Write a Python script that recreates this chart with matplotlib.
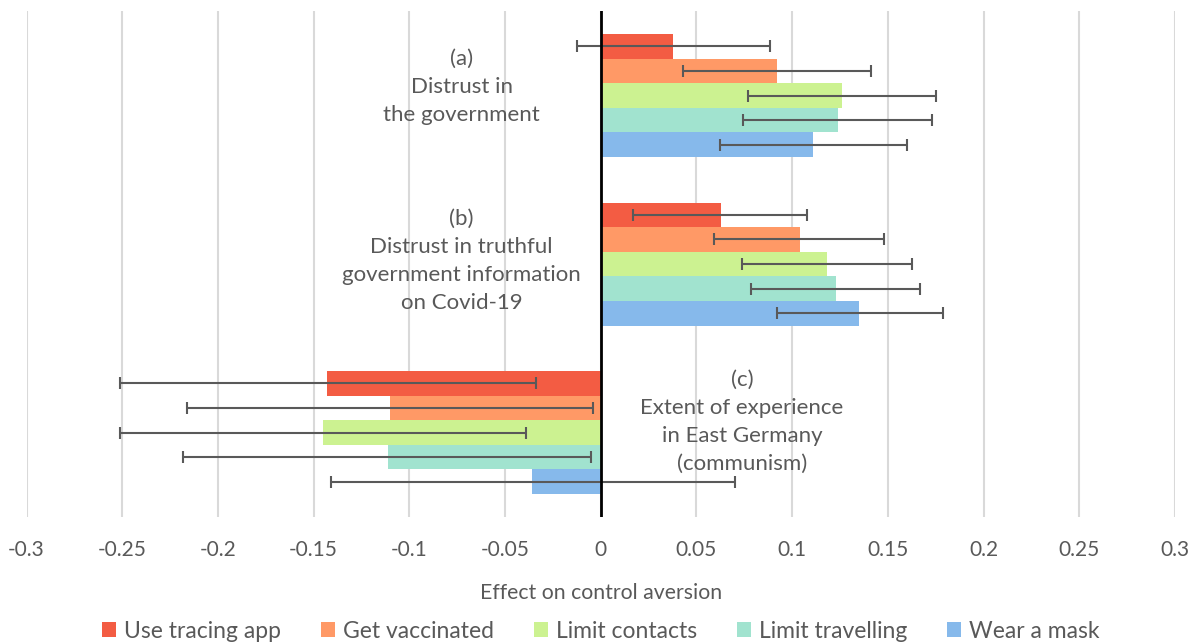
import numpy as np
import matplotlib
matplotlib.use("Agg")
import matplotlib.pyplot as plt

# ── Data ─────────────────────────────────────────────────────────────────────
groups = ["(a)\nDistrust in\nthe government",
          "(b)\nDistrust in truthful\ngovernment information\non Covid-19",
          "(c)\nExtent of experience\nin East Germany\n(communism)"]
series = ["Use tracing app", "Get vaccinated", "Limit contacts",
          "Limit travelling", "Wear a mask"]
colors = ["#F35C43", "#FF9966", "#CCF291", "#A1E3CF", "#86B9EB"]

# effect estimates, rows = series, cols = groups (a, b, c)
effects = np.array([
    [0.038, 0.063, -0.143],
    [0.092, 0.104, -0.110],
    [0.126, 0.118, -0.145],
    [0.124, 0.123, -0.111],
    [0.111, 0.135, -0.036],
])
ci_low = np.array([
    [-0.0125, 0.017, -0.251],
    [0.043, 0.059, -0.216],
    [0.077, 0.074, -0.251],
    [0.0745, 0.0785, -0.218],
    [0.0625, 0.092, -0.141],
])
ci_high = np.array([
    [0.0885, 0.108, -0.034],
    [0.141, 0.148, -0.004],
    [0.175, 0.1625, -0.039],
    [0.173, 0.167, -0.005],
    [0.160, 0.179, 0.070],
])

xticks = np.round(np.arange(-0.3, 0.301, 0.05), 2)
xtick_labels = ["-0.3", "-0.25", "-0.2", "-0.15", "-0.1", "-0.05", "0",
                "0.05", "0.1", "0.15", "0.2", "0.25", "0.3"]

# ── Plot ─────────────────────────────────────────────────────────────────────
plt.rcParams["font.family"] = ["Lato", "DejaVu Sans"]
TXT = "#595959"

fig = plt.figure(figsize=(11.95, 6.43), dpi=100)
ax = fig.add_axes([0.0222, 0.1963, 0.961, 0.7862])

n = len(series)
bar_h = 0.146
centers = np.arange(len(groups))
for i, (name, col) in enumerate(zip(series, colors)):
    y = centers + (i - (n - 1) / 2) * bar_h
    ax.barh(y, effects[i], height=bar_h, color=col, label=name, zorder=2)
    xerr = np.vstack([effects[i] - ci_low[i], ci_high[i] - effects[i]])
    ax.errorbar(effects[i], y, xerr=xerr, fmt="none", ecolor="#595959",
                elinewidth=1.5, capsize=4, capthick=1.5, zorder=4)

ax.set_xlim(-0.3, 0.3)
ax.set_ylim(2.5, -0.5)
ax.set_yticks([])
ax.set_xticks(xticks)
ax.set_xticklabels(xtick_labels, fontsize=15, color=TXT)
ax.tick_params(axis="x", length=0, pad=17)
ax.grid(axis="x", color="#D9D9D9", linewidth=1.5, zorder=0)
ax.set_axisbelow(True)
for sp in ax.spines.values():
    sp.set_visible(False)
ax.axvline(0, color="black", linewidth=2, zorder=5)

# group labels (x, y centre in data units)
label_pos = [(-0.0727, -0.052), (-0.0727, 0.982), (0.0738, 1.935)]
for (x, y), txt in zip(label_pos, groups):
    ax.text(x, y, txt, ha="center", va="center", fontsize=16,
            color=TXT, linespacing=1.5, zorder=3)

ax.set_xlabel("Effect on control aversion", fontsize=15.3, color=TXT,
              labelpad=16)

leg = fig.legend(loc="lower center", bbox_to_anchor=(0.503, -0.03), ncol=5,
                 frameon=False, fontsize=16.5, handlelength=0.6,
                 handleheight=0.65, handletextpad=0.35, columnspacing=1.75)
for t in leg.get_texts():
    t.set_color(TXT)

fig.savefig("out.png", dpi=100)
